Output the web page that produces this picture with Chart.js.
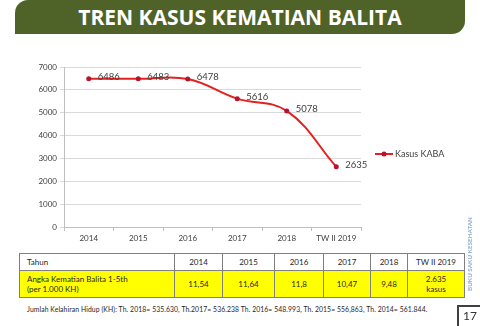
<!DOCTYPE html>
<html><head><meta charset="utf-8">
<script src="https://cdn.jsdelivr.net/npm/chart.js@4.4.0/dist/chart.umd.min.js"></script>
<style>
html,body{margin:0;padding:0;width:480px;height:326px;overflow:hidden;background:#fff;font-family:Lato,"Open Sans",sans-serif;}
#banner{position:absolute;left:15px;top:0;width:450px;height:34px;background:#4f6228;border-radius:13px 0 13px 0;color:#fff;font-family:"Open Sans",sans-serif;font-weight:bold;font-size:21px;text-align:center;line-height:34px;letter-spacing:0px;}
#wrap{position:absolute;left:0;top:55px;width:480px;height:195px;}
#tbl{position:absolute;left:19px;top:253px;border-collapse:collapse;font-family:Lato,sans-serif;font-size:8px;color:#262626;}
#tbl td{border:1px solid #7f7f7f;padding:0;text-align:center;}
#tbl td.first{text-align:left;padding-left:7px;}
#tbl tr.h td{height:16px;background:#fff;}
#tbl tr.v td{height:26px;background:#ffff00;line-height:10px;}
#note{position:absolute;left:27px;top:304px;font-size:6.8px;letter-spacing:0.1px;line-height:10px;color:#262626;white-space:nowrap;font-family:Lato,sans-serif;}
#side{position:absolute;left:469px;top:254px;transform:translate(-50%,-50%) rotate(-90deg);font-size:6.3px;color:#8eaad0;white-space:nowrap;font-family:Lato,sans-serif;font-weight:bold;}
#pg{position:absolute;left:457px;top:305px;width:30px;height:30px;border-left:2px solid #404040;border-top:2px solid #404040;}
#pgn{position:absolute;left:463px;top:308px;font-size:12px;color:#333;font-family:Lato,sans-serif;}
</style></head>
<body>
<div id="banner">TREN KASUS KEMATIAN BALITA</div>
<div id="wrap"><canvas id="c" width="480" height="195"></canvas></div>
<table id="tbl"><tbody></tbody></table>
<div id="note">Jumlah Kelahiran Hidup (KH): Th. 2018= 535.630, Th.2017= 536.238 Th. 2016= 548.993, Th. 2015= 556,863, Th. 2014= 561.844.</div>
<div id="side">BUKU SAKU KESEHATAN</div>
<div id="pg"></div><div id="pgn">17</div>
<script>
const categories = ['2014','2015','2016','2017','2018','TW II 2019'];
const kasusKaba = [6486,6483,6478,5616,5078,2635];
const seriesLabel = 'Kasus KABA';
const yMin = 0, yMax = 7000, yStep = 1000;
const tableHeader = 'Tahun';
const tableRowLabel = ['Angka Kematian Balita 1-5th','(per 1.000 KH)'];
const angkaKematian = [['11,54'],['11,64'],['11,8'],['10,47'],['9,48'],['2.635','kasus']];
const colWidths = [148,48,52,49,47,37,57];

// build table
const tb = document.querySelector('#tbl tbody');
const r1 = document.createElement('tr'); r1.className='h';
const r2 = document.createElement('tr'); r2.className='v';
function cell(row, lines, w, cls){const td=document.createElement('td'); td.style.width=(w-1)+'px'; if(cls) td.className=cls; lines.forEach((l,i)=>{ if(i) td.appendChild(document.createElement('br')); td.appendChild(document.createTextNode(l)); }); row.appendChild(td);}
cell(r1,[tableHeader],colWidths[0],'first');
cell(r2,tableRowLabel,colWidths[0],'first');
categories.forEach((c,i)=>{cell(r1,[c],colWidths[i+1]); cell(r2,angkaKematian[i],colWidths[i+1]);});
tb.appendChild(r1); tb.appendChild(r2);

const lineColor = '#e4211e', markColor = '#b8122e', textColor = '#404040';

const dataLabels = {
  id:'dataLabels',
  afterDatasetsDraw(chart){
    const ctx = chart.ctx; const meta = chart.getDatasetMeta(0);
    ctx.save(); ctx.font = '9.5px Lato'; ctx.fillStyle = textColor; ctx.textAlign='left'; ctx.textBaseline='middle';
    meta.data.forEach((pt,i)=>{ ctx.fillText(String(chart.data.datasets[0].data[i]), pt.x+9, pt.y-2); });
    ctx.restore();
  }
};
const customLegend = {
  id:'customLegend',
  afterDraw(chart){
    const ctx = chart.ctx, a = chart.chartArea;
    const x0 = a.right + 14, y = a.top + 87;
    ctx.save();
    ctx.strokeStyle = lineColor; ctx.lineWidth = 2;
    ctx.beginPath(); ctx.moveTo(x0,y); ctx.lineTo(x0+18,y); ctx.stroke();
    ctx.fillStyle = markColor; ctx.beginPath(); ctx.arc(x0+9,y,2.5,0,Math.PI*2); ctx.fill();
    ctx.font = '9px Lato'; ctx.fillStyle = textColor; ctx.textBaseline='middle'; ctx.textAlign='left';
    ctx.fillText(chart.data.datasets[0].label, x0+20, y);
    ctx.restore();
  }
};

new Chart(document.getElementById('c'), {
  type:'line',
  data:{labels:categories, datasets:[{label:seriesLabel, data:kasusKaba, borderColor:lineColor, borderWidth:2, tension:0.4,
    pointRadius:2.5, pointBackgroundColor:markColor, pointBorderColor:markColor, pointBorderWidth:0}]},
  options:{
    responsive:false, animation:false, devicePixelRatio:1,
    layout:{padding:{left:0,right:119,top:12,bottom:7}},
    plugins:{legend:{display:false}, tooltip:{enabled:false}},
    scales:{
      x:{ offset:true,
          grid:{offset:true, drawOnChartArea:false, drawTicks:true, tickLength:4, color:'#bfbfbf'},
          border:{color:'#bfbfbf'},
          ticks:{font:{family:'Lato',size:8}, color:textColor, padding:3, maxRotation:0, autoSkip:false},
          afterFit(s){ s.height = 16; } },
      y:{ min:yMin, max:yMax,
          ticks:{stepSize:yStep, font:{family:'Lato',size:8}, color:textColor, padding:3, callback:(v)=>String(v)},
          grid:{color:'#d9d9d9', tickLength:4},
          border:{color:'#bfbfbf'},
          afterFit(s){ s.width = 64; } }
    }
  },
  plugins:[dataLabels, customLegend]
});
</script>
</body></html>
